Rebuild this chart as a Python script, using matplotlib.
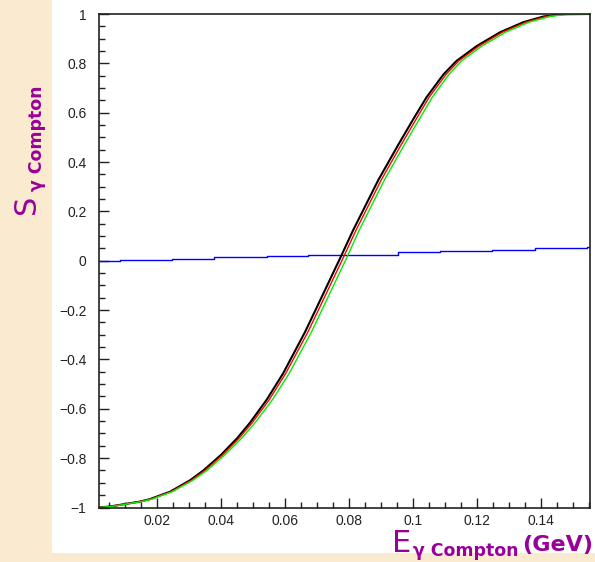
import numpy as np
import matplotlib
matplotlib.use('Agg')
from matplotlib import pyplot as plt
from matplotlib.patches import Rectangle
from matplotlib.ticker import MultipleLocator, FuncFormatter

# S_gamma values, shared by the three curves
s_vals = [-1.0, -0.996, -0.976, -0.966, -0.936, -0.890, -0.850, -0.787, -0.720, -0.656,
          -0.563, -0.457, -0.288, -0.190, 0.015, 0.124, 0.328, 0.470, 0.572, 0.662,
          0.755, 0.810, 0.870, 0.926, 0.967, 0.990, 0.999, 1.0]
# photon energy (GeV) for each curve
x_black = [0.0019, 0.0053, 0.0147, 0.0178, 0.0241, 0.0303, 0.0345, 0.0400, 0.0450, 0.0491,
           0.0543, 0.0594, 0.0663, 0.0699, 0.0774, 0.0813, 0.0892, 0.0954, 0.1000, 0.1042,
           0.1095, 0.1136, 0.1199, 0.1272, 0.1345, 0.1408, 0.1460, 0.1553]
x_red = [0.0019, 0.0055, 0.0149, 0.0181, 0.0244, 0.0307, 0.0350, 0.0405, 0.0456, 0.0498,
         0.0551, 0.0602, 0.0672, 0.0708, 0.0783, 0.0822, 0.0901, 0.0963, 0.1009, 0.1050,
         0.1103, 0.1143, 0.1206, 0.1279, 0.1353, 0.1416, 0.1470, 0.1553]
x_green = [0.0019, 0.0058, 0.0152, 0.0184, 0.0248, 0.0312, 0.0356, 0.0412, 0.0464, 0.0507,
           0.0561, 0.0613, 0.0683, 0.0719, 0.0794, 0.0832, 0.0911, 0.0973, 0.1019, 0.1060,
           0.1112, 0.1152, 0.1215, 0.1289, 0.1363, 0.1428, 0.1485, 0.1553]

# blue step line (nearly flat)
x_blue = [0.0019, 0.0084, 0.0247, 0.0378, 0.0544, 0.0672, 0.0953, 0.1084, 0.1247, 0.1381, 0.1543, 0.1553]
s_blue = [0.0, 0.004, 0.009, 0.014, 0.019, 0.023, 0.034, 0.038, 0.045, 0.050, 0.055, 0.055]

W, H = 595, 562
purple = '#990099'

plt.rcParams['font.family'] = ['Liberation Sans', 'DejaVu Sans']
fig = plt.figure(figsize=(W / 100, H / 100), dpi=100)
fig.patch.set_facecolor('#F9EAD0')

# white pad behind the plot
fig.patches.append(Rectangle((52 / W, 1 - 553 / H), 1 - 52 / W, 553 / H,
                             transform=fig.transFigure, facecolor='white',
                             edgecolor='none', zorder=-5))

ax = fig.add_axes([99 / W, 1 - 507.5 / H, (590 - 99) / W, (507.5 - 14) / H])
ax.set_zorder(2)
ax.set_facecolor('white')

ax.plot(x_blue, s_blue, color='#0000FF', lw=1.0, drawstyle='steps-post')
ax.plot(x_black, s_vals, color='black', lw=1.5)
ax.plot(x_red, s_vals, color='#FF0000', lw=1.0)
ax.plot(x_green, s_vals, color='#00EE00', lw=1.0)

ax.set_xlim(0.0019, 0.1553)
ax.set_ylim(-1, 1)

ax.xaxis.set_major_locator(MultipleLocator(0.02))
ax.xaxis.set_minor_locator(MultipleLocator(0.005))
ax.yaxis.set_major_locator(MultipleLocator(0.2))
ax.yaxis.set_minor_locator(MultipleLocator(0.05))


def fmt(v, pos):
    s = '%g' % round(v, 3)
    if s == '-0':
        s = '0'
    return s.replace('-', '\u2212')


ax.xaxis.set_major_formatter(FuncFormatter(fmt))
ax.yaxis.set_major_formatter(FuncFormatter(fmt))

ax.tick_params(axis='both', which='both', direction='in', top=False, right=False,
               colors='#222222', labelsize=10)
ax.tick_params(axis='both', which='major', length=7.5, width=1)
ax.tick_params(axis='both', which='minor', length=4, width=1)
ax.tick_params(axis='y', which='major', pad=9)
ax.tick_params(axis='x', which='major', pad=5)
for sp in ax.spines.values():
    sp.set_linewidth(1.2)
    sp.set_color('#222222')

# axis titles, built from pieces like the original slide
fig.text(392 / W, 1 - 552 / H, 'E', color=purple, fontsize=22,
         family='DejaVu Sans', ha='left', va='baseline', zorder=3)
fig.text(413 / W, 1 - 556 / H, '\u03b3 Compton', color=purple, fontsize=12.5,
         family='DejaVu Sans', fontweight='bold', ha='left', va='baseline', zorder=3)
fig.text(593 / W, 1 - 551 / H, '(GeV)', color=purple, fontsize=16,
         family='DejaVu Sans', fontweight='bold', ha='right', va='baseline', zorder=3)

fig.text(35 / W, 1 - 214 / H, 'S', color=purple, fontsize=22, family='DejaVu Sans',
         rotation=90, rotation_mode='anchor', ha='left', va='baseline', zorder=3)
fig.text(42 / W, 1 - 191 / H, '\u03b3 Compton', color=purple, fontsize=12.5,
         family='DejaVu Sans', fontweight='bold',
         rotation=90, rotation_mode='anchor', ha='left', va='baseline', zorder=3)

fig.savefig('out.png', dpi=100, facecolor=fig.get_facecolor())
